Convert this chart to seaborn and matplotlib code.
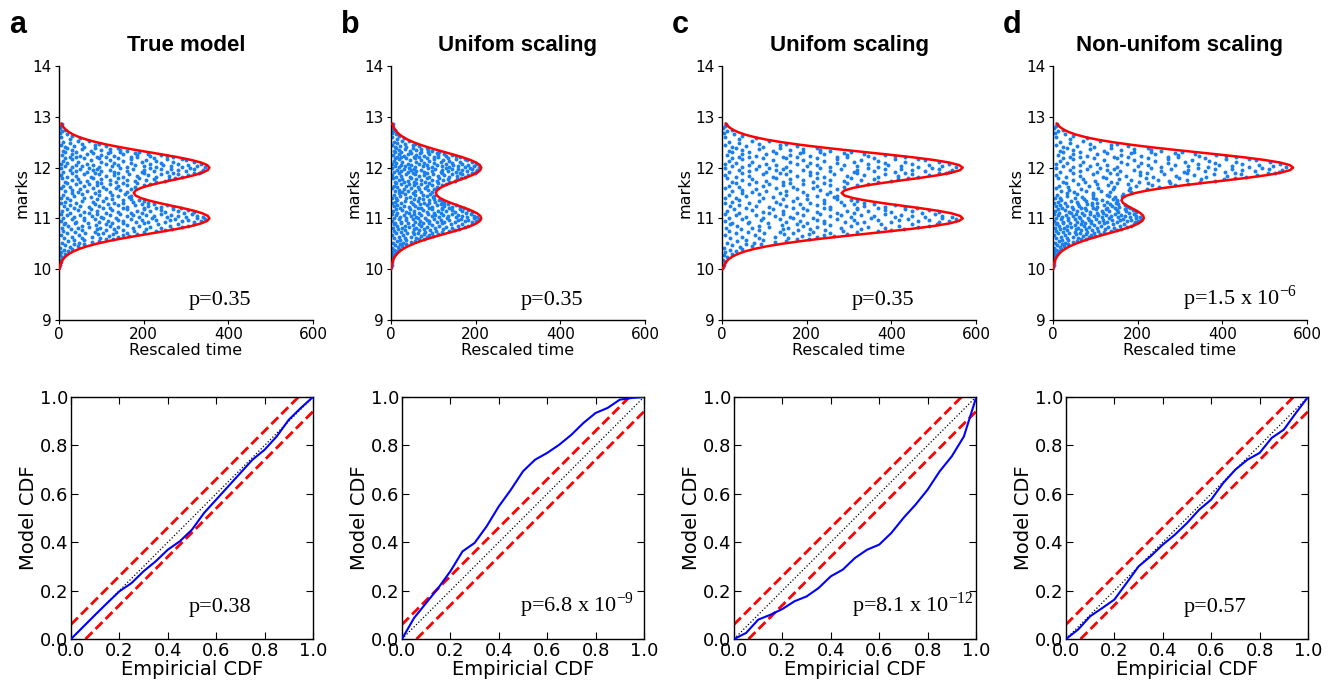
import numpy as np
import matplotlib
matplotlib.use("Agg")
import matplotlib.pyplot as plt
import seaborn as sns

# ---- model envelope (red curve), rescaled time vs mark ----
curve_marks = [10.00, 10.05, 10.10, 10.15, 10.20, 10.25, 10.30, 10.35, 10.40, 10.45,
               10.50, 10.55, 10.60, 10.65, 10.70, 10.75, 10.80, 10.85, 10.90, 10.95,
               11.00, 11.05, 11.10, 11.15, 11.20, 11.25, 11.30, 11.35, 11.40, 11.45,
               11.50, 11.55, 11.60, 11.65, 11.70, 11.75, 11.80, 11.85, 11.90, 11.95,
               12.00, 12.05, 12.10, 12.15, 12.20, 12.25, 12.30, 12.35, 12.40, 12.45,
               12.50, 12.55, 12.60, 12.65, 12.70, 12.75, 12.80, 12.85, 12.87]
curve_true = [1.4, 2.4, 3.9, 6.4, 10.1, 15.5, 23.3, 33.8, 47.9, 65.9,
              88.3, 114.9, 145.5, 179.2, 214.7, 250.1, 283.4, 312.6, 335.3, 349.9,
              355.4, 351.4, 338.8, 318.8, 293.6, 265.7, 238.0, 213.1, 193.4, 180.9,
              176.6, 180.9, 193.4, 213.1, 238.0, 265.7, 293.6, 318.8, 338.8, 351.4,
              355.4, 349.9, 335.3, 312.6, 283.4, 250.1, 214.7, 179.2, 145.5, 114.9,
              88.3, 65.9, 47.9, 33.8, 23.3, 15.5, 10.1, 6.4, 5.3]
curve_nonuniform = [0.8, 1.4, 2.4, 3.8, 6.1, 9.3, 14.0, 20.3, 28.7, 39.5,
                    53.0, 69.0, 87.3, 107.5, 128.8, 150.1, 170.1, 187.8, 201.6, 210.7,
                    214.6, 213.2, 207.2, 197.7, 186.3, 175.0, 166.0, 161.7, 163.9, 174.5,
                    194.3, 223.4, 261.5, 307.1, 357.5, 409.5, 459.6, 503.7, 538.2, 560.0,
                    567.2, 559.1, 536.1, 499.8, 453.5, 400.2, 343.5, 286.8, 232.8, 183.9,
                    141.3, 105.5, 76.6, 54.1, 37.2, 24.9, 16.2, 10.3, 8.4]

# ---- events: (rescaled time under the true model, mark) ----
events = np.array([
    [1, 10.04], [3, 10.09], [4, 10.15], [2, 10.19], [8, 10.24], [3, 10.28], [15, 10.29],
    [5, 10.33], [21, 10.36], [12, 10.38], [30, 10.39],
    [3, 10.42], [26, 10.43], [44, 10.46], [15, 10.47], [58, 10.49], [35, 10.50],
    [8, 10.51], [47, 10.52], [78, 10.53], [22, 10.55], [95, 10.56], [60, 10.57], [110, 10.59], [35, 10.58], [128, 10.60],
    [12, 10.61], [55, 10.61], [98, 10.62], [140, 10.63], [30, 10.64], [78, 10.64], [118, 10.65],
    [165, 10.66], [5, 10.67], [48, 10.67], [150, 10.68], [92, 10.69], [185, 10.69], [128, 10.70],
    [20, 10.71], [62, 10.71], [105, 10.72], [160, 10.72], [200, 10.73], [38, 10.73], [85, 10.74],
    [135, 10.74], [230, 10.75], [10, 10.76], [178, 10.76], [112, 10.77], [55, 10.77], [250, 10.78],
    [152, 10.78], [205, 10.79], [28, 10.79], [90, 10.80], [268, 10.80], [130, 10.80],
    [6, 10.81], [45, 10.81], [98, 10.82], [175, 10.82], [240, 10.82], [290, 10.83], [70, 10.83],
    [140, 10.84], [215, 10.84], [22, 10.85], [120, 10.85], [262, 10.85], [305, 10.86], [55, 10.86],
    [190, 10.86], [160, 10.87], [88, 10.87], [235, 10.88], [318, 10.88], [12, 10.89], [110, 10.89],
    [280, 10.89], [200, 10.90], [38, 10.90], [150, 10.90],
    [15, 10.91], [68, 10.91], [125, 10.91], [182, 10.92], [250, 10.92], [320, 10.92], [40, 10.93],
    [95, 10.93], [210, 10.93], [290, 10.94], [150, 10.94], [335, 10.95], [5, 10.95], [115, 10.95],
    [262, 10.96], [58, 10.96], [195, 10.96], [305, 10.97], [140, 10.97], [230, 10.97], [30, 10.98],
    [85, 10.98], [345, 10.98], [170, 10.99], [275, 10.99], [220, 11.00], [105, 11.00], [325, 11.00],
    [10, 11.01], [60, 11.01], [135, 11.01], [190, 11.02], [255, 11.02], [340, 11.02], [35, 11.03],
    [100, 11.03], [300, 11.03], [160, 11.04], [225, 11.04], [78, 11.05], [280, 11.05], [325, 11.05],
    [20, 11.06], [120, 11.06], [205, 11.06], [50, 11.07], [175, 11.07], [265, 11.07], [315, 11.08],
    [90, 11.08], [240, 11.08], [145, 11.09], [5, 11.09], [295, 11.10], [70, 11.10], [195, 11.10],
    [25, 11.11], [110, 11.11], [170, 11.11], [250, 11.12], [320, 11.12], [60, 11.13], [140, 11.13],
    [215, 11.14], [280, 11.14], [8, 11.15], [90, 11.15], [185, 11.15], [305, 11.16], [45, 11.16],
    [240, 11.17], [125, 11.17], [160, 11.18], [270, 11.18], [18, 11.19], [75, 11.19], [200, 11.19],
    [288, 11.20], [105, 11.20], [230, 11.20], [150, 11.20],
    [35, 11.21], [120, 11.21], [200, 11.21], [270, 11.22], [70, 11.22], [160, 11.23], [240, 11.23],
    [12, 11.24], [95, 11.24], [210, 11.25], [50, 11.25], [255, 11.26], [140, 11.26], [180, 11.27],
    [25, 11.27], [225, 11.28], [85, 11.28], [115, 11.29], [195, 11.29], [5, 11.30], [150, 11.30],
    [40, 11.31], [130, 11.31], [210, 11.31], [80, 11.32], [175, 11.33], [15, 11.33], [105, 11.34],
    [200, 11.35], [55, 11.35], [150, 11.36], [190, 11.37], [25, 11.37], [90, 11.38], [125, 11.38],
    [170, 11.39], [60, 11.40], [5, 11.40],
    [20, 11.41], [110, 11.41], [165, 11.42], [75, 11.43], [140, 11.44], [35, 11.45], [170, 11.45],
    [95, 11.46], [10, 11.47], [125, 11.47], [55, 11.48], [155, 11.49], [85, 11.50], [30, 11.50],
    [120, 11.51], [45, 11.51], [160, 11.52], [15, 11.53], [95, 11.53], [65, 11.54], [145, 11.55],
    [30, 11.56], [110, 11.57], [170, 11.58], [50, 11.58], [80, 11.59], [135, 11.60], [5, 11.60],
    [25, 11.61], [105, 11.61], [180, 11.62], [60, 11.63], [140, 11.63], [10, 11.64], [90, 11.65],
    [200, 11.65], [160, 11.66], [40, 11.67], [120, 11.67], [215, 11.68], [70, 11.68], [185, 11.69],
    [20, 11.70], [100, 11.70], [150, 11.69],
    [50, 11.71], [135, 11.71], [230, 11.71], [15, 11.72], [90, 11.72], [180, 11.73], [250, 11.74],
    [65, 11.74], [120, 11.75], [205, 11.75], [30, 11.76], [160, 11.76], [260, 11.77], [100, 11.77],
    [225, 11.78], [45, 11.78], [140, 11.79], [275, 11.79], [8, 11.80], [190, 11.80], [80, 11.80],
    [20, 11.81], [75, 11.81], [150, 11.81], [230, 11.82], [290, 11.82], [110, 11.83], [185, 11.83],
    [40, 11.84], [260, 11.84], [305, 11.85], [130, 11.85], [210, 11.86], [5, 11.86], [60, 11.87],
    [165, 11.87], [280, 11.87], [95, 11.88], [240, 11.88], [320, 11.89], [30, 11.89], [140, 11.89],
    [200, 11.90], [270, 11.90], [85, 11.90], [330, 11.90],
    [10, 11.91], [65, 11.91], [130, 11.91], [195, 11.92], [255, 11.92], [335, 11.92], [40, 11.93],
    [100, 11.93], [300, 11.93], [160, 11.94], [225, 11.94], [80, 11.95], [280, 11.95], [340, 11.95],
    [25, 11.96], [120, 11.96], [200, 11.96], [50, 11.97], [175, 11.97], [265, 11.97], [320, 11.98],
    [90, 11.98], [240, 11.98], [145, 11.99], [5, 11.99], [310, 12.00], [70, 12.00], [215, 12.00],
    [30, 12.01], [95, 12.01], [160, 12.01], [230, 12.02], [290, 12.02], [345, 12.02], [55, 12.03],
    [125, 12.03], [200, 12.03], [15, 12.04], [265, 12.04], [325, 12.04], [80, 12.05], [180, 12.05],
    [245, 12.05], [40, 12.06], [140, 12.06], [305, 12.06], [110, 12.07], [215, 12.07], [280, 12.07],
    [5, 12.08], [65, 12.08], [335, 12.08], [170, 12.09], [240, 12.09], [20, 12.10], [130, 12.10],
    [45, 12.11], [100, 12.11], [195, 12.11], [270, 12.12], [320, 12.12], [10, 12.13], [150, 12.13],
    [230, 12.13], [75, 12.14], [300, 12.14], [120, 12.15], [205, 12.15], [30, 12.16], [255, 12.16],
    [170, 12.17], [290, 12.17], [60, 12.18], [140, 12.18], [225, 12.18], [15, 12.19], [95, 12.19],
    [270, 12.20], [185, 12.20], [40, 12.20], [110, 12.20],
    [25, 12.21], [90, 12.21], [170, 12.21], [255, 12.22], [50, 12.23], [130, 12.23], [215, 12.23],
    [8, 12.24], [100, 12.25], [240, 12.25], [185, 12.25], [65, 12.26], [150, 12.26], [30, 12.27],
    [210, 12.27], [115, 12.28], [80, 12.29], [180, 12.29], [15, 12.30], [145, 12.30],
    [40, 12.31], [120, 12.31], [190, 12.31], [10, 12.32], [75, 12.33], [160, 12.33], [100, 12.34],
    [30, 12.35], [145, 12.35], [55, 12.36], [120, 12.37], [20, 12.38], [85, 12.38], [140, 12.39],
    [15, 12.41], [60, 12.41], [110, 12.42], [35, 12.43], [85, 12.44], [5, 12.45], [55, 12.46],
    [95, 12.47], [25, 12.49], [10, 12.51], [45, 12.52], [70, 12.53], [25, 12.56], [50, 12.58],
    [5, 12.61], [30, 12.63], [18, 12.67], [3, 12.69], [8, 12.72], [15, 12.75], [2, 12.78],
    [4, 12.82], [6, 12.85],
])

# ---- KS plots: empirical CDF vs model CDF ----
ks_emp = [0.0, 0.05, 0.10, 0.15, 0.20, 0.25, 0.30, 0.35, 0.40, 0.45, 0.50,
          0.55, 0.60, 0.65, 0.70, 0.75, 0.80, 0.85, 0.90, 0.95, 1.0]
ks_model_a = [0.0, 0.05, 0.10, 0.149, 0.197, 0.231, 0.28, 0.321, 0.369, 0.404, 0.452,
              0.521, 0.576, 0.631, 0.686, 0.741, 0.782, 0.837, 0.906, 0.955, 1.0]
ks_model_b = [0.0, 0.087, 0.149, 0.211, 0.28, 0.362, 0.397, 0.466, 0.548, 0.617, 0.693,
              0.741, 0.769, 0.803, 0.844, 0.893, 0.934, 0.955, 0.989, 0.996, 1.0]
ks_model_c = [0.0, 0.025, 0.08, 0.10, 0.124, 0.156, 0.176, 0.211, 0.259, 0.287, 0.335,
              0.369, 0.39, 0.438, 0.50, 0.555, 0.617, 0.693, 0.755, 0.837, 0.996]
ks_model_d = [0.0, 0.039, 0.094, 0.128, 0.163, 0.231, 0.30, 0.342, 0.39, 0.431, 0.479,
              0.534, 0.576, 0.645, 0.70, 0.741, 0.769, 0.831, 0.865, 0.934, 1.0]
ks_band = 0.06

letters = ["a", "b", "c", "d"]
titles = ["True model", "Unifom scaling", "Unifom scaling", "Non-unifom scaling"]
scale = [1.0, 0.6, 1.6, None]   # None -> non-uniform scaling
p_top = ["p=0.35", "p=0.35", "p=0.35", r"p=1.5 x 10$^{\mathregular{-6}}$"]
p_bottom = ["p=0.38", r"p=6.8 x 10$^{\mathregular{-9}}$",
            r"p=8.1 x 10$^{\mathregular{-12}}$", "p=0.57"]
ks_models = [ks_model_a, ks_model_b, ks_model_c, ks_model_d]

sns.set_style("ticks")
plt.rcParams["font.family"] = ["DejaVu Sans"]
plt.rcParams["text.color"] = "black"
plt.rcParams["axes.labelcolor"] = "black"
plt.rcParams["xtick.color"] = "black"
plt.rcParams["ytick.color"] = "black"

fig = plt.figure(figsize=(13.33, 6.85), dpi=100)
top_left = [59, 391, 722, 1053]
bot_left = [71, 402, 734, 1066]
W, H = 1333.0, 685.0

dot_color = "#1a80f0"
marks_arr = np.array(curve_marks)
true_arr = np.array(curve_true)
nonu_arr = np.array(curve_nonuniform)

for i in range(4):
    # ---- top row: rescaled times vs marks ----
    ax = fig.add_axes([top_left[i] / W, 1 - 320 / H, 254 / W, 254 / H])
    t = events[:, 0]
    m = events[:, 1]
    if scale[i] is None:
        fac = np.interp(m, marks_arr, nonu_arr) / np.interp(m, marks_arr, true_arr)
        ct = nonu_arr
    else:
        fac = scale[i]
        ct = true_arr * scale[i]
    sns.scatterplot(x=t * fac, y=m, ax=ax, s=8, color=dot_color, linewidth=0, zorder=2)
    sns.lineplot(x=ct, y=marks_arr, ax=ax, sort=False, estimator=None,
                 color="red", lw=1.8, zorder=3)
    ax.set_xlim(0, 600)
    ax.set_ylim(9, 14)
    ax.set_xticks([0, 200, 400, 600])
    ax.set_yticks([9, 10, 11, 12, 13, 14])
    sns.despine(ax=ax)
    for s in ["left", "bottom"]:
        ax.spines[s].set_color("black")
        ax.spines[s].set_linewidth(1)
    ax.tick_params(direction="out", length=3, width=0.8, labelsize=11, pad=2)
    ax.set_xlabel("Rescaled time", fontsize=11.5, labelpad=1)
    ax.set_ylabel("marks", fontsize=11.5, labelpad=2)
    ax.set_title(titles[i], fontsize=16, fontweight="bold", family="Liberation Sans",
                 pad=11, color="black")
    ax.text(0.512, 0.06, p_top[i], transform=ax.transAxes, fontsize=16,
            family="Liberation Serif", ha="left", va="baseline")

    # ---- bottom row: KS plots ----
    bx = fig.add_axes([bot_left[i] / W, 1 - 639 / H, 242 / W, 242 / H])
    bx.plot([0, 1], [0, 1], color="black", ls=":", lw=0.9, zorder=1)
    bx.plot([0, 1 - ks_band], [ks_band, 1], color="red", lw=2, dashes=(3.5, 1.6), zorder=2)
    bx.plot([ks_band, 1], [0, 1 - ks_band], color="red", lw=2, dashes=(3.5, 1.6), zorder=2)
    sns.lineplot(x=ks_emp, y=ks_models[i], ax=bx, sort=False, estimator=None,
                 color="blue", lw=1.5, zorder=3)
    bx.set_xlim(0, 1)
    bx.set_ylim(0, 1)
    ticks = [0, 0.2, 0.4, 0.6, 0.8, 1.0]
    bx.set_xticks(ticks)
    bx.set_yticks(ticks)
    bx.set_xticklabels([f"{v:.1f}" for v in ticks])
    bx.set_yticklabels([f"{v:.1f}" for v in ticks])
    for s in bx.spines.values():
        s.set_color("black")
        s.set_linewidth(1)
    bx.tick_params(direction="in", length=5, width=0.8, top=True, right=True,
                   labelsize=13, pad=2)
    bx.set_xlabel("Empiricial CDF", fontsize=14, labelpad=0)
    bx.set_ylabel("Model CDF", fontsize=14, labelpad=1)
    bx.text(0.488, 0.113, p_bottom[i], transform=bx.transAxes, fontsize=16,
            family="Liberation Serif", ha="left", va="baseline")

    fig.text((top_left[i] - 50) / W, 1 - 33 / H, letters[i], fontsize=22,
             fontweight="bold", family="Liberation Sans", ha="left", va="baseline")

fig.savefig("out.png", dpi=100)
